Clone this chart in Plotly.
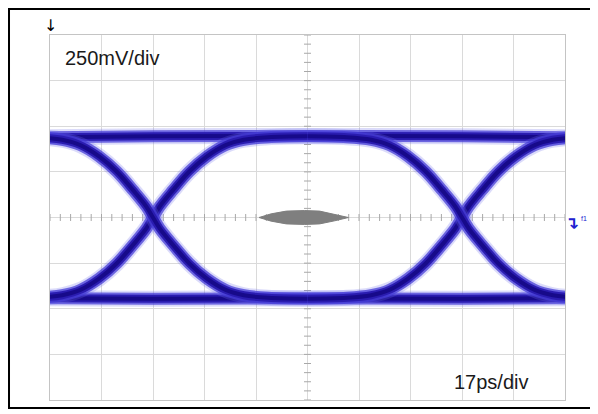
import numpy as np
import plotly.graph_objects as go

# Escalas del osciloscopio
PS_PER_DIV = 17
MV_PER_DIV = 250
X_DIVS = 10
Y_DIVS = 8

# Cruces del ojo (ps)
crossings = [34, 136]

# Forma de la transición: desplazamiento desde el cruce (ps) -> nivel (mV)
trans_t = [0, 2.2, 6.6, 12.0, 17.7, 24.0, 30.0, 38.0, 51.0]
trans_mv = [0, 60, 150, 252, 334, 397, 426, 440, 445]

# Rieles alto y bajo
rail_t = [0, 34, 85, 136, 170]
top_mv = [440, 445, 446, 445, 440]
bottom_mv = [-442, -445, -443, -445, -442]

# Máscara gris del centro
mask_t = [69, 73, 78, 84, 89, 94, 98.5]
mask_h = [0, 20, 35, 38, 35, 18, 0]

# Capas para simular el grosor del trazo
layers = [
    (16, "rgba(110,110,235,0.25)"),
    (12, "rgba(70,60,215,0.75)"),
    (8, "#2a1cb0"),
    (4, "#170a8a"),
]

fig = go.Figure()

# Marcas menores sobre los ejes centrales (debajo de las trazas)
x_center = PS_PER_DIV * X_DIVS / 2
minor_x = np.arange(0, PS_PER_DIV * X_DIVS + 0.01, PS_PER_DIV / 5)
minor_y = np.arange(-MV_PER_DIV * Y_DIVS / 2, MV_PER_DIV * Y_DIVS / 2 + 0.01, MV_PER_DIV / 5)
fig.add_trace(go.Scatter(
    x=minor_x, y=np.zeros_like(minor_x), mode="markers",
    marker=dict(symbol="line-ns", size=5, line=dict(color="#a8a8a8", width=1)),
    hoverinfo="skip", showlegend=False
))
fig.add_trace(go.Scatter(
    x=np.full_like(minor_y, x_center), y=minor_y, mode="markers",
    marker=dict(symbol="line-ew", size=5, line=dict(color="#a8a8a8", width=1)),
    hoverinfo="skip", showlegend=False
))


def add_band(x, y):
    for width, color in layers:
        fig.add_trace(go.Scatter(
            x=x, y=y, mode="lines",
            line=dict(color=color, width=width, shape="spline", smoothing=1.0),
            hoverinfo="skip", showlegend=False
        ))


# Rieles
add_band(rail_t, top_mv)
add_band(rail_t, bottom_mv)

# Transiciones de subida y bajada en cada cruce
t_arr = np.array(trans_t)
v_arr = np.array(trans_mv)
for c in crossings:
    xs = np.concatenate([c - t_arr[::-1], c + t_arr[1:]])
    ys = np.concatenate([-v_arr[::-1], v_arr[1:]])
    add_band(xs, ys)
    add_band(xs, -ys)

# Máscara central
m_t = np.array(mask_t)
m_h = np.array(mask_h)
fig.add_trace(go.Scatter(
    x=np.concatenate([m_t, m_t[::-1]]),
    y=np.concatenate([m_h, -m_h[::-1]]),
    fill="toself", fillcolor="#7f7f7f", mode="lines",
    line=dict(color="#7f7f7f", width=1),
    hoverinfo="skip", showlegend=False
))

fig.update_xaxes(
    range=[0, PS_PER_DIV * X_DIVS], dtick=PS_PER_DIV, tick0=0,
    showticklabels=False, ticks="", showgrid=True, gridcolor="#dadada", gridwidth=1,
    zeroline=False, showline=True, mirror=True, linecolor="#c4c4c4", linewidth=1
)
fig.update_yaxes(
    range=[-MV_PER_DIV * Y_DIVS / 2, MV_PER_DIV * Y_DIVS / 2], dtick=MV_PER_DIV, tick0=0,
    showticklabels=False, ticks="", showgrid=True, gridcolor="#dadada", gridwidth=1,
    zeroline=False, showline=True, mirror=True, linecolor="#c4c4c4", linewidth=1
)

# La página añade 8px de margen, así que la figura es 8px más pequeña
fig.update_layout(
    width=590, height=406,
    margin=dict(l=42, r=33, t=27, b=14),
    paper_bgcolor="white", plot_bgcolor="white",
    font=dict(family="Liberation Sans, Arial, sans-serif", color="#1a1a1a"),
    shapes=[dict(
        type="rect", xref="paper", yref="paper",
        x0=-0.0796, x1=1.0524, y0=-0.0219, y1=1.0712,
        line=dict(color="black", width=2), layer="above"
    )],
    annotations=[
        dict(text="250mV/div", x=0.0252, y=0.938, xref="paper", yref="paper",
             xanchor="left", yanchor="middle", showarrow=False, font=dict(size=20)),
        dict(text="17ps/div", x=0.7806, y=0.0501, xref="paper", yref="paper",
             xanchor="left", yanchor="middle", showarrow=False, font=dict(size=20)),
        dict(text="↓", x=0.0, y=1.026, xref="paper", yref="paper",
             xanchor="center", yanchor="middle", showarrow=False,
             font=dict(size=16, family="DejaVu Sans", color="#000000")),
        dict(text="<b>↴</b>", x=1.0136, y=0.484, xref="paper", yref="paper",
             xanchor="center", yanchor="middle", showarrow=False,
             font=dict(size=17, family="DejaVu Sans", color="#2020d0")),
        dict(text="f1", x=1.036, y=0.497, xref="paper", yref="paper",
             xanchor="center", yanchor="middle", showarrow=False,
             font=dict(size=7, color="#2020d0")),
    ],
)

fig.write_html("out.html")
